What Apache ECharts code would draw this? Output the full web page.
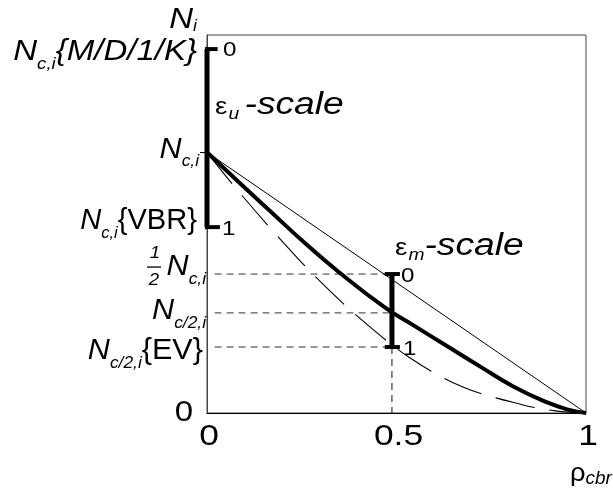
<!DOCTYPE html>
<html><head><meta charset="utf-8">
<script src="https://cdn.jsdelivr.net/npm/echarts@6/dist/echarts.min.js"></script>
<style>html,body{margin:0;padding:0;background:#fff}#c{width:613px;height:495px}</style>
</head><body><div id="c"></div>
<script>
// ---- data ----
const rhoTicks = [0, 0.5, 1];
const rhoTickLabels = ['0', '0.5', '1'];
const levelKeys = ['zero', 'ev', 'nc2', 'half', 'vbr', 'nci', 'mdk'];
const levelValues = [0, 0.253, 0.384, 0.533, 0.713, 1, 1.396];
const yMax = 1.45;
const rhoMark = 0.488;
const linearX = [0, 1];
const linearY = [1, 0];
const thickX = [0, 0.082, 0.172, 0.259, 0.346, 0.470, 0.544, 0.633, 0.720, 0.807, 0.897, 0.950, 1];
const thickY = [1, 0.888, 0.767, 0.651, 0.543, 0.404, 0.337, 0.257, 0.179, 0.103, 0.041, 0.014, 0];
const dashX = [0, 0.074, 0.179, 0.290, 0.409, 0.536, 0.675, 0.834, 0.920, 1];
const dashY = [1, 0.866, 0.690, 0.517, 0.356, 0.211, 0.100, 0.031, 0.008, 0];

const lv = {};
levelKeys.forEach((k, i) => lv[k] = levelValues[i]);
const zip = (xs, ys) => xs.map((x, i) => [x, ys[i]]);

// ---- styling ----
const FF = "'Liberation Sans', Arial, sans-serif";
const blk = '#000';
const rich = {
  N: {fontSize: 30, fontStyle: 'italic', fontFamily: FF, fill: blk},
  s: {fontSize: 17, fontStyle: 'italic', fontFamily: FF, fill: blk, padding: [24, 0, 0, 0]},
  bi: {fontSize: 30, fontStyle: 'italic', fontFamily: FF, fill: blk},
  b: {fontSize: 30, fontFamily: FF, fill: blk},
  d: {fontSize: 30, fontFamily: FF, fill: blk}
};
const labelText = {
  zero: '{d|0}',
  ev: '{N|N}{s|c/2,i}{b|{EV}}',
  nc2: '{N|N}{s|c/2,i}',
  half: '{N|N}{s|c,i}',
  vbr: '{N|N}{s|c,i}{b|{VBR}}',
  nci: '{N|N}{s|c,i}',
  mdk: '{N|N}{s|c,i}{bi|{M/D/1/K}}'
};
const labelBaseItalic = {mdk: true};
const labelNudge = {zero: [-14, 0], ev: [-4, 4], nc2: [-1, -2], half: [-1, -7], vbr: [-10, -6], nci: [-8, -3], mdk: [-10, 3]};
const labelScale = {zero: 1.1, ev: 1.02, nc2: 1.02, half: 1.02, vbr: 0.97, nci: 1.02, mdk: 1.1};

function seg(data, width, dash, color, z) {
  return {
    type: 'line', data: data, symbol: 'none', clip: false, z: z || 3,
    lineStyle: {color: color || blk, width: width, type: dash || 'solid'},
    silent: true, animation: false
  };
}

const series = [
  seg(zip(linearX, linearY), 1),
  Object.assign(seg(zip(dashX, dashY), 1.1, [40, 15]), {smooth: 0.35}),
  Object.assign(seg(zip(thickX, thickY), 4), {smooth: 0.5}),
  // eps_u scale bar
  seg([[0, lv.mdk], [0, lv.vbr]], 5, 'solid', blk, 5),
  seg([[-0.011, lv.mdk], [0.028, lv.mdk]], 4, 'solid', blk, 5),
  seg([[-0.011, lv.vbr], [0.034, lv.vbr]], 4, 'solid', blk, 5),
  // eps_m scale bar
  seg([[rhoMark, lv.half], [rhoMark, lv.ev]], 5, 'solid', blk, 5),
  seg([[rhoMark - 0.019, lv.half], [rhoMark + 0.021, lv.half]], 4, 'solid', blk, 5),
  seg([[rhoMark - 0.019, lv.ev], [rhoMark + 0.021, lv.ev]], 4, 'solid', blk, 5),
  // dashed guides
  seg([[0.02, lv.half], [rhoMark, lv.half]], 1, [7, 5], '#333', 2),
  seg([[0.02, lv.nc2], [rhoMark, lv.nc2]], 1, [7, 5], '#333', 2),
  seg([[0.02, lv.ev], [rhoMark, lv.ev]], 1, [7, 5], '#333', 2),
  seg([[rhoMark, lv.ev], [rhoMark, 0]], 1, [7, 5], '#111', 2)
];

const chart = echarts.init(document.getElementById('c'));
chart.setOption({
  animation: false,
  backgroundColor: '#fff',
  grid: {left: 207, right: 27, top: 35, bottom: 82, show: true, borderColor: '#444', borderWidth: 1},
  xAxis: {
    type: 'value', min: 0, max: 1,
    axisLine: {show: true, onZero: false, lineStyle: {color: blk, width: 1}},
    axisTick: {show: false}, splitLine: {show: false}, axisLabel: {show: false}
  },
  yAxis: {
    type: 'value', min: 0, max: yMax,
    axisLine: {show: true, onZero: false, lineStyle: {color: '#444', width: 1}},
    axisTick: {show: true, customValues: [lv.nci], length: 7, lineStyle: {color: blk, width: 1}},
    splitLine: {show: false}, axisLabel: {show: false}
  },
  series: series
});

const px = (x, y) => chart.convertToPixel({gridIndex: 0}, [x, y]);
const graphics = [];
function txt(pos, text, align, sx, richMap, base) {
  const st = Object.assign({
    text: text, x: 0, y: 0, align: align, verticalAlign: 'middle',
    fill: blk, fontFamily: FF, fontSize: 30
  }, base || {});
  if (richMap) st.rich = richMap;
  graphics.push({type: 'text', x: pos[0], y: pos[1], scaleX: sx || 1.15, silent: true, z: 10, style: st});
}

// y level labels
levelKeys.forEach((k, i) => {
  const p = px(0, levelValues[i]);
  const n = labelNudge[k];
  txt([p[0] + n[0], p[1] + n[1]], labelText[k], 'right', labelScale[k], rich,
      labelBaseItalic[k] ? {fontStyle: 'italic'} : {});
});
// fraction 1/2 in front of half label
(function () {
  const p = px(0, lv.half);
  const fs = {fontSize: 17, fontStyle: 'italic'};
  txt([p[0] - 52, p[1] - 21], '1', 'center', 1.1, null, fs);
  txt([p[0] - 53, p[1] + 6], '2', 'center', 1.1, null, fs);
  graphics.push({type: 'line', silent: true, z: 10,
    shape: {x1: p[0] - 60, y1: p[1] - 7, x2: p[0] - 46, y2: p[1] - 7},
    style: {stroke: blk, lineWidth: 1.3}});
})();
// x tick labels
rhoTicks.forEach((v, i) => {
  const p = px(v, 0);
  txt([p[0] + 2, p[1] + 24], rhoTickLabels[i], 'center', 1.18, null, {fontSize: 30});
});
// axis titles
(function () {
  const top = px(0, yMax);
  txt([top[0] - 10, top[1] - 15], '{N|N}{t|i}', 'right', 1.1, {
    N: {fontSize: 30, fontStyle: 'italic', fontFamily: FF, fill: blk},
    t: {fontSize: 16, fontStyle: 'italic', fontFamily: FF, fill: blk, padding: [14, 0, 0, 0]}
  });
  const end = px(1, 0);
  txt([end[0] - 16, end[1] + 61], '{r|ρ}{c|cbr}', 'left', 1.05, {
    r: {fontSize: 26, fontFamily: FF, fill: blk},
    c: {fontSize: 18, fontStyle: 'italic', fontFamily: FF, fill: blk, padding: [9, 0, 0, 0]}
  });
})();
// scale titles and end labels
(function () {
  const scaleRich = {
    e: {fontSize: 23, fontFamily: FF, fill: blk, padding: [5, 0, 0, 0]},
    u: {fontSize: 16, fontStyle: 'italic', fontFamily: FF, fill: blk, padding: [18, 0, 0, 1]},
    w: {fontSize: 31, fontStyle: 'italic', fontFamily: FF, fill: blk}
  };
  const pu = px(0, lv.mdk);
  txt([pu[0] + 8, pu[1] + 56], '{e|ε}{u|u }{w|-scale}', 'left', 1.2, scaleRich);
  const pm = px(rhoMark, lv.half);
  txt([pm[0] + 3, pm[1] - 28], '{e|ε}{u|m}{w|-scale}', 'left', 1.2, scaleRich);
  const small = {fontSize: 21};
  txt([pu[0] + 16, pu[1] + 1], '0', 'left', 1.15, null, small);
  const pv = px(0, lv.vbr);
  txt([pv[0] + 15, pv[1] + 2], '1', 'left', 1.15, null, small);
  txt([pm[0] + 9, pm[1] + 2], '0', 'left', 1.15, null, small);
  const pe = px(rhoMark, lv.ev);
  txt([pe[0] + 11, pe[1] + 2], '1', 'left', 1.15, null, small);
})();

chart.setOption({graphic: graphics});
</script>
</body></html>
